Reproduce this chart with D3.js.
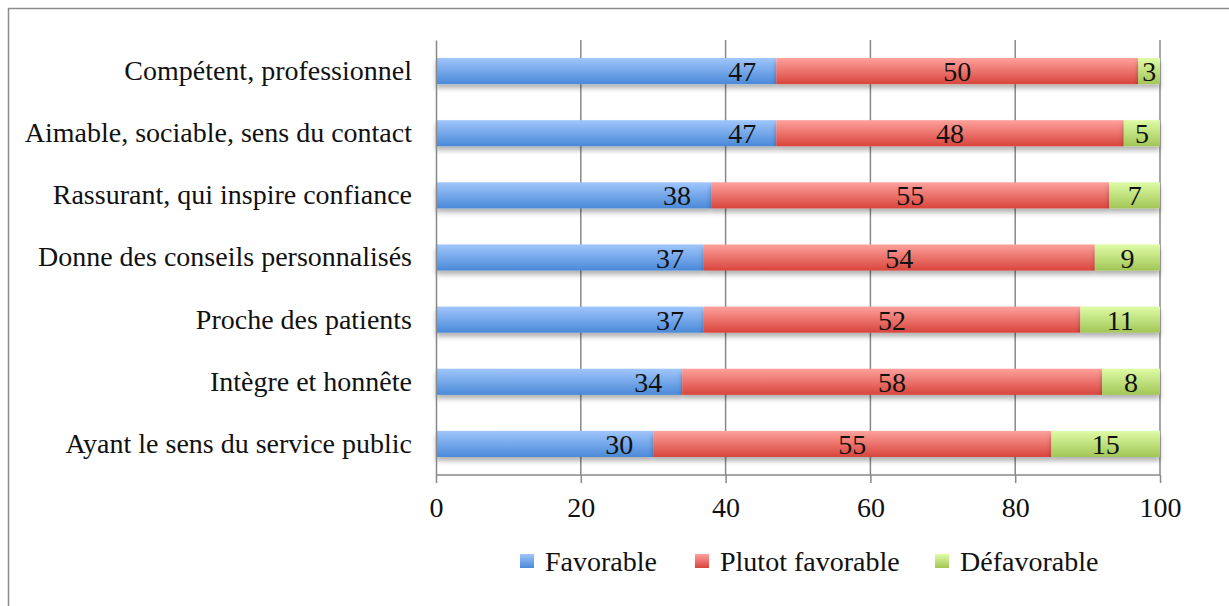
<!DOCTYPE html>
<html>
<head>
<meta charset="utf-8">
<script src="https://cdn.jsdelivr.net/npm/d3@7"></script>
<style>
  body { margin: 0; background: #fff; }
  svg text { font-family: "Liberation Serif", "DejaVu Serif", serif; fill: #111; }
</style>
</head>
<body>
<svg id="chart" width="1229" height="606"></svg>
<script>
// data
var categories = ["Compétent, professionnel", "Aimable, sociable, sens du contact", "Rassurant, qui inspire confiance",
  "Donne des conseils personnalisés", "Proche des patients", "Intègre et honnête", "Ayant le sens du service public"];
var seriesNames = ["Favorable", "Plutot favorable", "Défavorable"];
var favorable = [47, 47, 38, 37, 37, 34, 30];
var plutotFavorable = [50, 48, 55, 54, 52, 58, 55];
var defavorable = [3, 5, 7, 9, 11, 8, 15];
var xTicks = [0, 20, 40, 60, 80, 100];

var colors = [["#a0c6fc", "#4a89d8"], ["#fea19c", "#d8453c"], ["#defca6", "#a2c656"]];
var fontSize = 28;

var svg = d3.select("#chart");
var defs = svg.append("defs");
colors.forEach(function (c, i) {
  var g = defs.append("linearGradient").attr("id", "grad" + i)
    .attr("x1", 0).attr("y1", 0).attr("x2", 0).attr("y2", 1);
  g.append("stop").attr("offset", "0%").attr("stop-color", c[0]);
  g.append("stop").attr("offset", "100%").attr("stop-color", c[1]);
});
var shadow = defs.append("filter").attr("id", "shadow")
  .attr("x", "-5%").attr("y", "-30%").attr("width", "110%").attr("height", "180%");
shadow.append("feDropShadow").attr("dx", 0).attr("dy", 4).attr("stdDeviation", 2.5)
  .attr("flood-color", "#000").attr("flood-opacity", 0.3);

// outer frame
svg.append("rect").attr("x", 8.5).attr("y", 8.5).attr("width", 1240).attr("height", 620)
  .attr("fill", "none").attr("stroke", "#8c8c8c").attr("stroke-width", 1.5);

var plotLeft = 436, plotRight = 1160, plotTop = 40, plotBottom = 475;
var x = d3.scaleLinear().domain([0, 100]).range([plotLeft, plotRight]);
var y = d3.scaleBand().domain(categories).range([plotTop, plotBottom]).paddingInner(0.58).paddingOuter(0.29);

// grid
svg.append("g").selectAll("line").data(xTicks.slice(1)).join("line")
  .attr("x1", d => x(d)).attr("x2", d => x(d)).attr("y1", plotTop).attr("y2", plotBottom)
  .attr("stroke", "#888").attr("stroke-width", 1.5);

// stacked
var rows = categories.map(function (c, i) {
  return { cat: c, Favorable: favorable[i], "Plutot favorable": plutotFavorable[i], "Défavorable": defavorable[i] };
});
var stack = d3.stack().keys(seriesNames)(rows);

var barG = svg.append("g");
stack.forEach(function (layer, si) {
  barG.append("g").attr("filter", "url(#shadow)").selectAll("rect").data(layer).join("rect")
    .attr("x", d => x(d[0])).attr("width", d => x(d[1]) - x(d[0]))
    .attr("y", d => y(d.data.cat)).attr("height", y.bandwidth())
    .attr("fill", "url(#grad" + si + ")");
});
stack.forEach(function (layer, si) {
  // first series: label sits at the inside end; others centred
  barG.append("g").selectAll("text").data(layer).join("text")
    .attr("x", d => si === 0 ? x(d[1]) - 20 : x((d[0] + d[1]) / 2))
    .attr("text-anchor", si === 0 ? "end" : "middle")
    .attr("y", d => y(d.data.cat) + y.bandwidth() / 2 + 10)
    .attr("font-size", fontSize)
    .text(d => d[1] - d[0]);
});

// axes
var xAxis = d3.axisBottom(x).tickValues(xTicks).tickSize(8).tickPadding(14);
var gx = svg.append("g").attr("transform", "translate(0," + plotBottom + ")").call(xAxis);
gx.select(".domain").attr("stroke", "#888").attr("stroke-width", 1.5).attr("d", "M" + plotLeft + ",0H" + plotRight);
gx.selectAll(".tick line").attr("stroke", "#888").attr("stroke-width", 1.5);
gx.selectAll(".tick text").attr("font-size", fontSize).attr("font-family", "Liberation Serif").attr("fill", "#111");

var yAxis = d3.axisLeft(y).tickSize(0).tickPadding(24);
var gy = svg.append("g").attr("transform", "translate(" + plotLeft + ",0)").call(yAxis);
gy.select(".domain").attr("stroke", "#888").attr("stroke-width", 1.5);
gy.selectAll(".tick text").attr("font-size", fontSize).attr("font-family", "Liberation Serif").attr("fill", "#111");

// legend
var legendX = [520, 695, 935];
var leg = svg.append("g").selectAll("g").data(seriesNames).join("g")
  .attr("transform", (d, i) => "translate(" + legendX[i] + ",554)");
leg.append("rect").attr("width", 14).attr("height", 14).attr("fill", (d, i) => "url(#grad" + i + ")");
leg.append("text").attr("x", 25).attr("y", 17).attr("font-size", fontSize).text(d => d);
</script>
</body>
</html>
